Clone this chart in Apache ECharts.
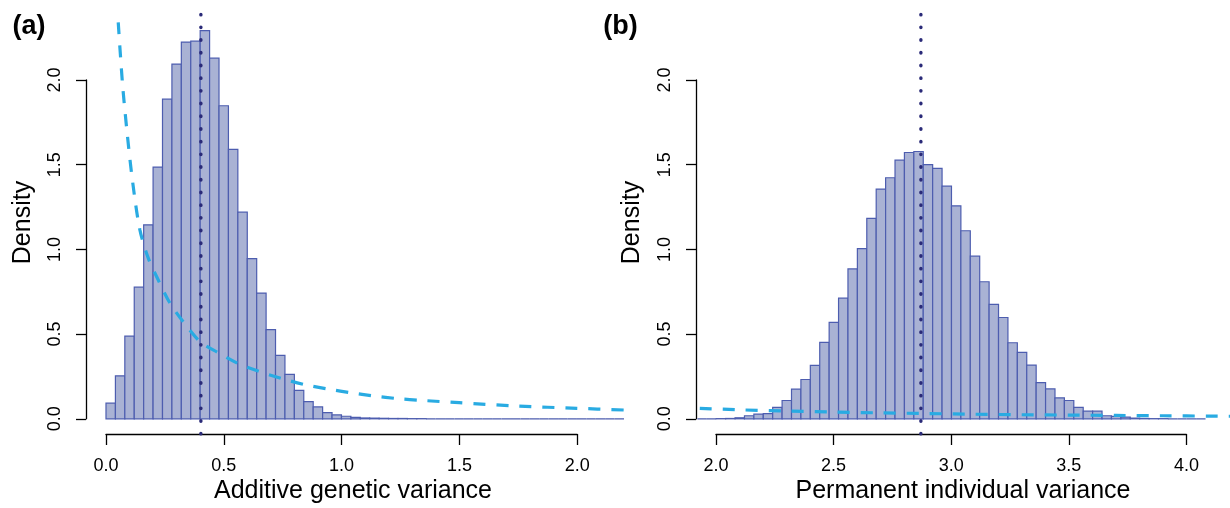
<!DOCTYPE html>
<html>
<head>
<meta charset="utf-8">
<script src="https://cdn.jsdelivr.net/npm/echarts@6/dist/echarts.min.js"></script>
<style>
  html, body { margin: 0; padding: 0; background: #fff; }
  #chart { width: 1230px; height: 508px; }
</style>
</head>
<body>
<div id="chart"></div>
<script>
// histogram bins are 0.04 wide
const binWidth = 0.04;

// (a) additive genetic variance, bins start at 0
const addStart = 0;
const addDensity = [
  0.092, 0.254, 0.488, 0.777, 1.145, 1.486, 1.887, 2.094, 2.224, 2.229,
  2.292, 2.129, 1.848, 1.590, 1.220, 0.945, 0.742, 0.527, 0.374, 0.262,
  0.168, 0.101, 0.070, 0.037, 0.023, 0.015, 0.008, 0.005, 0.004, 0.003,
  0.002, 0.002, 0.001, 0.001, 0, 0, 0, 0, 0, 0,
  0, 0, 0, 0, 0, 0, 0, 0, 0, 0,
  0, 0, 0, 0, 0
];
const addMean = 0.403;
const addPriorX = [0.052, 0.07, 0.09, 0.113, 0.144, 0.18, 0.222, 0.272, 0.328, 0.4,
  0.477, 0.56, 0.654, 0.753, 0.85, 0.95, 1.04, 1.135, 1.24, 1.34, 1.5, 1.75, 2.0, 2.2];
const addPriorY = [2.34, 1.98, 1.685, 1.40, 1.115, 0.947, 0.819, 0.682, 0.573, 0.455,
  0.39, 0.327, 0.278, 0.235, 0.2, 0.174, 0.154, 0.135, 0.119, 0.109, 0.095, 0.075, 0.062, 0.052];

// (b) permanent individual variance, bins start at 1.92
const permStart = 1.92;
const permDensity = [
  0, 0, 0.001, 0.002, 0.006, 0.018, 0.028, 0.031, 0.067,
  0.108, 0.175, 0.232, 0.315, 0.451, 0.569, 0.712, 0.885, 1.004,
  1.183, 1.356, 1.423, 1.527, 1.572, 1.578, 1.501, 1.478, 1.373, 1.257,
  1.110, 0.960, 0.809, 0.675, 0.598, 0.449, 0.392, 0.317, 0.214, 0.177,
  0.124, 0.108, 0.067, 0.045, 0.045, 0.018, 0.014, 0.010, 0.004, 0.002,
  0.001, 0.001, 0, 0, 0, 0
];
const permMean = 2.87;
const permPriorX = [1.93, 2.1, 2.3, 2.5, 2.7, 2.9, 3.1, 3.3, 3.5, 3.7, 3.9, 4.1, 4.19];
const permPriorY = [0.062, 0.053, 0.046, 0.040, 0.035, 0.031, 0.027, 0.024, 0.022, 0.020, 0.018, 0.016, 0.015];

// axis ticks
const xTicksA = [0, 0.5, 1.0, 1.5, 2.0];
const xTicksB = [2.0, 2.5, 3.0, 3.5, 4.0];
const yTicks = [0, 0.5, 1.0, 1.5, 2.0];

const FONT = "'Liberation Sans', Arial, sans-serif";
const BAR_FILL = "#a9b2d4";
const BAR_EDGE = "#4d5daf";
const PRIOR = "#29abe2";
const MEAN = "#2a2a78";

const yMin = -0.0897, yMax = 2.3896;

function bins(start, dens) {
  return dens.map((d, i) => [start + i * binWidth, start + (i + 1) * binWidth, d]);
}

function renderBar(params, api) {
  const a = api.coord([api.value(0), api.value(2)]);
  const b = api.coord([api.value(1), 0]);
  return {
    type: "rect",
    shape: { x: a[0], y: a[1], width: b[0] - a[0], height: b[1] - a[1] },
    style: { fill: BAR_FILL, stroke: BAR_EDGE, lineWidth: 1.2 },
  };
}

function pairs(xs, ys) {
  return xs.map((x, i) => [x, ys[i]]);
}

const hidden = {
  show: true,
  axisLine: { show: false },
  axisTick: { show: false },
  axisLabel: { show: false },
  splitLine: { show: false },
};

function xAxisLine(gridIndex, ticks) {
  return {
    type: "value",
    gridIndex: gridIndex,
    position: "bottom",
    min: ticks[0],
    max: ticks[ticks.length - 1],
    interval: 0.5,
    axisLine: { show: true, lineStyle: { color: "#000", width: 1.3 } },
    axisTick: { show: true, length: 11, lineStyle: { color: "#000", width: 1.3 } },
    axisLabel: {
      show: true, margin: 23, fontSize: 18, color: "#000", fontFamily: FONT,
      showMinLabel: true, showMaxLabel: true,
      formatter: (v) => v.toFixed(1),
    },
    splitLine: { show: false },
  };
}

function yAxisLine(gridIndex) {
  return {
    type: "value",
    gridIndex: gridIndex,
    position: "left",
    min: yTicks[0],
    max: yTicks[yTicks.length - 1],
    interval: 0.5,
    axisLine: { show: true, lineStyle: { color: "#000", width: 1.3 } },
    axisTick: { show: true, length: 10, lineStyle: { color: "#000", width: 1.3 } },
    axisLabel: {
      show: true, margin: 22, rotate: 90, fontSize: 18, color: "#000", fontFamily: FONT,
      showMinLabel: true, showMaxLabel: true,
      formatter: (v) => v.toFixed(1),
    },
    splitLine: { show: false },
  };
}

const chart = echarts.init(document.getElementById("chart"));

const option = {
  animation: false,
  backgroundColor: "#fff",
  grid: [
    // plot areas
    { left: 86, top: 14, width: 538, height: 420 },
    { left: 696, top: 14, width: 534, height: 420 },
    // x axes
    { left: 106, top: 433, width: 471.2, height: 1 },
    { left: 716, top: 433, width: 470.4, height: 1 },
    // y axes
    { left: 86, top: 80, width: 1, height: 338.8 },
    { left: 696, top: 80, width: 1, height: 338.8 },
  ],
  xAxis: [
    Object.assign({ type: "value", gridIndex: 0, min: -0.0849, max: 2.2 }, hidden),
    Object.assign({ type: "value", gridIndex: 1, min: 1.914, max: 4.184 }, hidden),
    xAxisLine(2, xTicksA),
    xAxisLine(3, xTicksB),
    Object.assign({ type: "value", gridIndex: 4 }, hidden),
    Object.assign({ type: "value", gridIndex: 5 }, hidden),
  ],
  yAxis: [
    Object.assign({ type: "value", gridIndex: 0, min: yMin, max: yMax }, hidden),
    Object.assign({ type: "value", gridIndex: 1, min: yMin, max: yMax }, hidden),
    Object.assign({ type: "value", gridIndex: 2 }, hidden),
    Object.assign({ type: "value", gridIndex: 3 }, hidden),
    yAxisLine(4),
    yAxisLine(5),
  ],
  series: [
    {
      type: "custom", xAxisIndex: 0, yAxisIndex: 0,
      renderItem: renderBar, encode: { x: [0, 1], y: 2 },
      data: bins(addStart, addDensity),
    },
    {
      type: "line", xAxisIndex: 0, yAxisIndex: 0,
      data: [[addMean, yMin], [addMean, yMax]],
      showSymbol: false,
      lineStyle: { color: MEAN, width: 3.4, type: [0.5, 12.2], cap: "round" },
    },
    {
      type: "line", xAxisIndex: 0, yAxisIndex: 0,
      data: pairs(addPriorX, addPriorY),
      showSymbol: false, smooth: 0.3,
      lineStyle: { color: PRIOR, width: 3.2, type: [12, 11] },
    },
    {
      type: "custom", xAxisIndex: 1, yAxisIndex: 1,
      renderItem: renderBar, encode: { x: [0, 1], y: 2 },
      data: bins(permStart, permDensity),
    },
    {
      type: "line", xAxisIndex: 1, yAxisIndex: 1,
      data: [[permMean, yMin], [permMean, yMax]],
      showSymbol: false,
      lineStyle: { color: MEAN, width: 3.4, type: [0.5, 12.2], cap: "round" },
    },
    {
      type: "line", xAxisIndex: 1, yAxisIndex: 1,
      data: pairs(permPriorX, permPriorY),
      showSymbol: false, smooth: 0.3,
      lineStyle: { color: PRIOR, width: 3.2, type: [12, 11] },
    },
  ],
  graphic: [
    { type: "text", x: 29, y: 26.5, style: { text: "(a)", font: "bold 27px " + FONT, fill: "#000", textAlign: "center", textVerticalAlign: "middle" } },
    { type: "text", x: 620.5, y: 26.5, style: { text: "(b)", font: "bold 27px " + FONT, fill: "#000", textAlign: "center", textVerticalAlign: "middle" } },
    { type: "text", x: 23, y: 222.5, rotation: Math.PI / 2, style: { text: "Density", font: "25px " + FONT, fill: "#000", textAlign: "center", textVerticalAlign: "middle" } },
    { type: "text", x: 632.5, y: 222.5, rotation: Math.PI / 2, style: { text: "Density", font: "25px " + FONT, fill: "#000", textAlign: "center", textVerticalAlign: "middle" } },
    { type: "text", x: 353, y: 491, style: { text: "Additive genetic variance", font: "25px " + FONT, fill: "#000", textAlign: "center", textVerticalAlign: "middle" } },
    { type: "text", x: 963, y: 491, style: { text: "Permanent individual variance", font: "25px " + FONT, fill: "#000", textAlign: "center", textVerticalAlign: "middle" } },
  ],
};

chart.setOption(option);
</script>
</body>
</html>
